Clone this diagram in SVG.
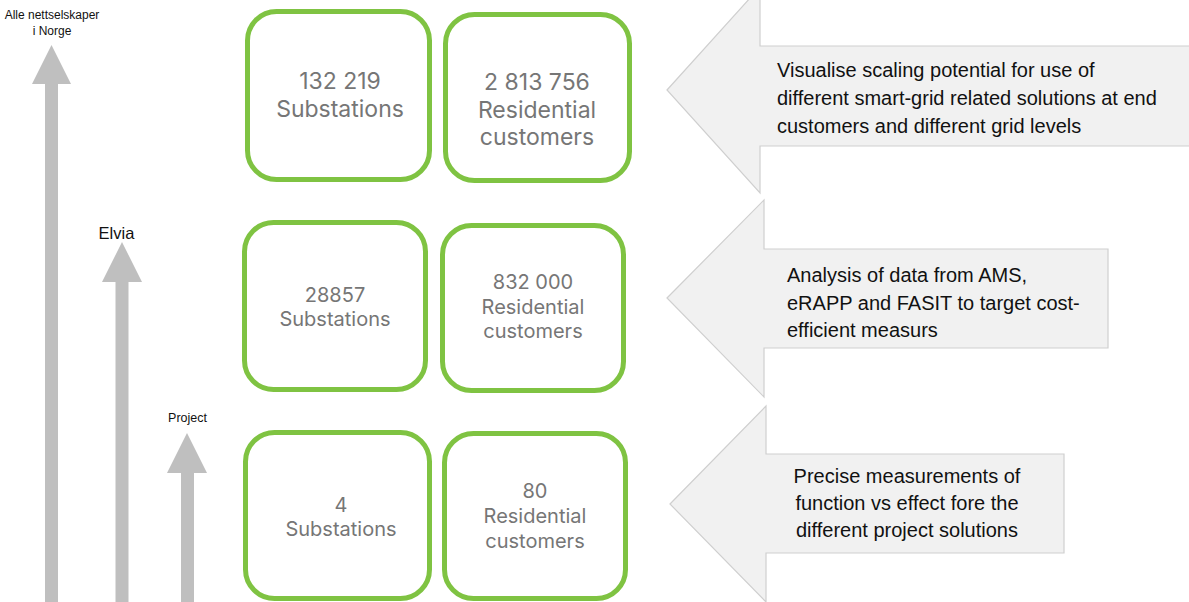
<svg xmlns="http://www.w3.org/2000/svg" width="1189" height="602" viewBox="0 0 1189 602">
  <style>
    .box { fill: #ffffff; stroke: #7fc342; stroke-width: 5; }
    .num { font-family: Inter, "Liberation Sans", sans-serif; font-weight: 400; fill: #767676; text-anchor: middle; }
    .big { font-size: 23px; }
    .small { font-size: 20px; }
    .scale { fill: #bfbfbf; }
    .lbl { font-family: "Liberation Sans", Arial, sans-serif; fill: #111111; text-anchor: middle; }
    .callout { fill: #f1f1f1; stroke: #cfcfcf; stroke-width: 1.2; }
    .ctext { font-family: "Liberation Sans", Arial, sans-serif; font-size: 20px; fill: #111111; }
  </style>

  <!-- vertical scale arrows -->
  <g id="connectors">
    <polygon class="scale" points="51.5,45 71,84 58,84 58,602 45,602 45,84 32,84"/>
    <polygon class="scale" points="122,242 142,282 128.5,282 128.5,602 115.5,602 115.5,282 102,282"/>
    <polygon class="scale" points="187,433 207,473 194,473 194,602 181,602 181,473 167,473"/>
  </g>

  <!-- scale labels -->
  <g id="label-norge">
    <text class="lbl" x="52" y="19" font-size="12">Alle nettselskaper</text>
    <text class="lbl" x="52" y="35" font-size="12">i Norge</text>
  </g>
  <g id="label-elvia">
    <text class="lbl" x="116.5" y="239" font-size="16.5">Elvia</text>
  </g>
  <g id="label-project">
    <text class="lbl" x="187.5" y="422" font-size="12.5">Project</text>
  </g>

  <!-- national level -->
  <g id="norge-substations">
    <rect class="box" x="247.5" y="11.5" width="182" height="168" rx="29"/>
    <text class="num big" x="340" y="89">132 219</text>
    <text class="num big" x="340" y="117">Substations</text>
  </g>
  <g id="norge-customers">
    <rect class="box" x="445.5" y="14.5" width="184" height="166" rx="29"/>
    <text class="num big" x="537" y="90">2 813 756</text>
    <text class="num big" x="537" y="118">Residential</text>
    <text class="num big" x="537" y="145">customers</text>
  </g>

  <!-- Elvia level -->
  <g id="elvia-substations">
    <rect class="box" x="244.5" y="222.5" width="181" height="167" rx="29"/>
    <text class="num small" x="335" y="302">28857</text>
    <text class="num small" x="335" y="326">Substations</text>
  </g>
  <g id="elvia-customers">
    <rect class="box" x="442.5" y="225.5" width="181" height="165" rx="29"/>
    <text class="num small" x="533" y="289">832 000</text>
    <text class="num small" x="533" y="314">Residential</text>
    <text class="num small" x="533" y="338">customers</text>
  </g>

  <!-- project level -->
  <g id="project-substations">
    <rect class="box" x="245.5" y="432.5" width="184" height="166" rx="29"/>
    <text class="num small" x="341" y="512">4</text>
    <text class="num small" x="341" y="536">Substations</text>
  </g>
  <g id="project-customers">
    <rect class="box" x="444.5" y="433.5" width="181" height="165" rx="29"/>
    <text class="num small" x="535" y="498">80</text>
    <text class="num small" x="535" y="523">Residential</text>
    <text class="num small" x="535" y="548">customers</text>
  </g>

  <!-- purpose callouts -->
  <g id="callout-scaling">
    <polygon class="callout" points="667,90 760,-13 760,46 1195,46 1195,146 760,146 760,193"/>
    <text class="ctext" x="777" y="77">Visualise scaling potential for use of</text>
    <text class="ctext" x="777" y="105">different smart-grid related solutions at end</text>
    <text class="ctext" x="777" y="133">customers and different grid levels</text>
  </g>
  <g id="callout-analysis">
    <polygon class="callout" points="667,298 764,200 764,249 1108,249 1108,348 764,348 764,397"/>
    <text class="ctext" x="787" y="282">Analysis of data from AMS,</text>
    <text class="ctext" x="787" y="310">eRAPP and FASIT to target cost-</text>
    <text class="ctext" x="787" y="337">efficient measurs</text>
  </g>
  <g id="callout-measurements">
    <polygon class="callout" points="670,504 766,406 766,454 1064,454 1064,553 766,553 766,602"/>
    <text class="ctext" x="907" y="483" text-anchor="middle">Precise measurements of</text>
    <text class="ctext" x="907" y="510" text-anchor="middle">function vs effect fore the</text>
    <text class="ctext" x="907" y="537" text-anchor="middle">different project solutions</text>
  </g>
</svg>
